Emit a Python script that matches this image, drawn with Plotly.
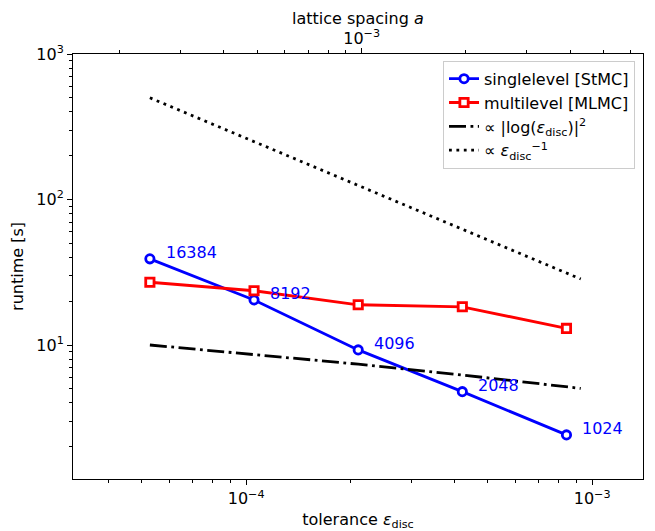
import numpy as np
import plotly.graph_objects as go

# ---- data ----
tolerance = [5.27e-5, 1.054e-4, 2.108e-4, 4.215e-4, 8.43e-4]
runtime_single = [39.1, 20.4, 9.25, 4.78, 2.41]
runtime_multi = [27.0, 23.6, 18.9, 18.3, 13.0]
lattice_sizes = ["16384", "8192", "4096", "2048", "1024"]

ref_x = [5.27e-5, 1.054e-4, 2.108e-4, 4.215e-4, 8.43e-4, 9.27e-4]
ref_log2 = [10.0, 8.64, 7.38, 6.22, 5.16, 5.03]
ref_inv = [500.0, 250.0, 125.0, 62.5, 31.2, 28.4]

x_ticks = [1e-4, 1e-3]
x_ticktext = ["10<sup>−4</sup>", "10<sup>−3</sup>"]
x_minor = [4e-5, 5e-5, 6e-5, 7e-5, 8e-5, 9e-5,
           2e-4, 3e-4, 4e-4, 5e-4, 6e-4, 7e-4, 8e-4, 9e-4]
top_ticks = [1e-3]
top_ticktext = ["10<sup>−3</sup>"]
top_minor = [2e-4, 3e-4, 4e-4, 5e-4, 6e-4, 7e-4, 8e-4, 9e-4,
             2e-3, 3e-3, 4e-3, 5e-3, 6e-3]
y_ticks = [10, 100, 1000]
y_ticktext = ["10<sup>1</sup>", "10<sup>2</sup>", "10<sup>3</sup>"]
y_minor = [2, 3, 4, 5, 6, 7, 8, 9,
           20, 30, 40, 50, 60, 70, 80, 90,
           200, 300, 400, 500, 600, 700, 800, 900]

FONT = "DejaVu Sans"
FS = 16
BLUE = "#0000ff"
RED = "#ff0000"

fig = go.Figure()
fig.add_trace(go.Scatter(
    x=tolerance, y=runtime_single, mode="lines+markers",
    name="singlelevel [StMC]", legendgroup="a",
    line=dict(color=BLUE, width=2.8),
    marker=dict(symbol="circle", size=8.3, color="white",
                line=dict(color=BLUE, width=2.8)),
))
fig.add_trace(go.Scatter(
    x=tolerance, y=runtime_multi, mode="lines+markers",
    name="multilevel [MLMC]", legendgroup="b",
    line=dict(color=RED, width=2.8),
    marker=dict(symbol="square", size=8.3, color="white",
                line=dict(color=RED, width=2.8)),
))
fig.add_trace(go.Scatter(
    x=ref_x, y=ref_log2, mode="lines",
    name="∝ |log(<i>ε</i><sub>disc</sub>)|<sup>2</sup>", legendgroup="c",
    line=dict(color="black", width=2.8, dash="17px,4.5px,2.8px,4.5px"),
))
fig.add_trace(go.Scatter(
    x=ref_x, y=ref_inv, mode="lines",
    name="∝ <i>ε</i><sub>disc</sub><sup>−1</sup>", legendgroup="d",
    line=dict(color="black", width=2.8, dash="2.8px,4.6px"),
))
# empty trace so the top (lattice spacing) axis gets drawn
fig.add_trace(go.Scatter(
    x=top_ticks, y=[None], xaxis="x2", yaxis="y", mode="lines",
    showlegend=False, hoverinfo="skip",
))

for xv, yv, lab in zip(tolerance, runtime_single, lattice_sizes):
    fig.add_annotation(
        x=np.log10(xv), y=np.log10(yv), text=lab, showarrow=False,
        xanchor="left", yanchor="middle", xshift=14, yshift=6,
        font=dict(family=FONT, size=FS, color=BLUE),
    )

# title of the top (lattice spacing) axis
fig.add_annotation(
    xref="paper", yref="paper", x=0.5, y=1.1082, text="lattice spacing <i>a</i>",
    showarrow=False, xanchor="center", yanchor="top", borderpad=0,
    font=dict(family=FONT, size=FS, color="black"),
)

axis_common = dict(
    showgrid=False, zeroline=False, showline=True, linecolor="black",
    linewidth=1.1, ticks="outside", ticklen=5, tickwidth=1.1,
    tickcolor="black", tickfont=dict(family=FONT, size=FS, color="black"),
    automargin=False,
)
minor_common = dict(ticks="outside", ticklen=3, tickwidth=0.9,
                    tickcolor="black", showgrid=False)

# the page body adds an 8px offset, so the figure is 8px smaller
fig.update_layout(
    width=647, height=523,
    margin=dict(l=65, r=12, t=46, b=52),
    plot_bgcolor="white", paper_bgcolor="white",
    font=dict(family=FONT, size=FS, color="black"),
    showlegend=True,
    legend=dict(
        x=0.986, xanchor="right", y=0.984, yanchor="top",
        bordercolor="#cccccc", borderwidth=1,
        bgcolor="rgba(255,255,255,0.8)",
        font=dict(family=FONT, size=FS, color="black"),
        traceorder="grouped", tracegroupgap=0,
    ),
    xaxis=dict(
        type="log", range=[-4.5004, -2.853],
        tickvals=x_ticks, ticktext=x_ticktext,
        minor=dict(tickvals=x_minor, **minor_common),
        title=dict(text="tolerance <i>ε</i><sub>disc</sub>",
                   font=dict(family=FONT, size=FS, color="black"),
                   standoff=7),
        **axis_common,
    ),
    xaxis2=dict(
        type="log", range=[-3.834, -2.187], overlaying="x", side="top",
        anchor="y",
        tickvals=top_ticks, ticktext=top_ticktext,
        minor=dict(tickvals=top_minor, **minor_common),
        ticklabelstandoff=-2,
        **axis_common,
    ),
    yaxis=dict(
        type="log", range=[0.079, 3],
        tickvals=y_ticks, ticktext=y_ticktext,
        minor=dict(tickvals=y_minor, **minor_common),
        mirror=True,
        title=dict(text="runtime [s]",
                   font=dict(family=FONT, size=FS, color="black"),
                   standoff=8),
        **axis_common,
    ),
)

fig.write_html("out.html")
